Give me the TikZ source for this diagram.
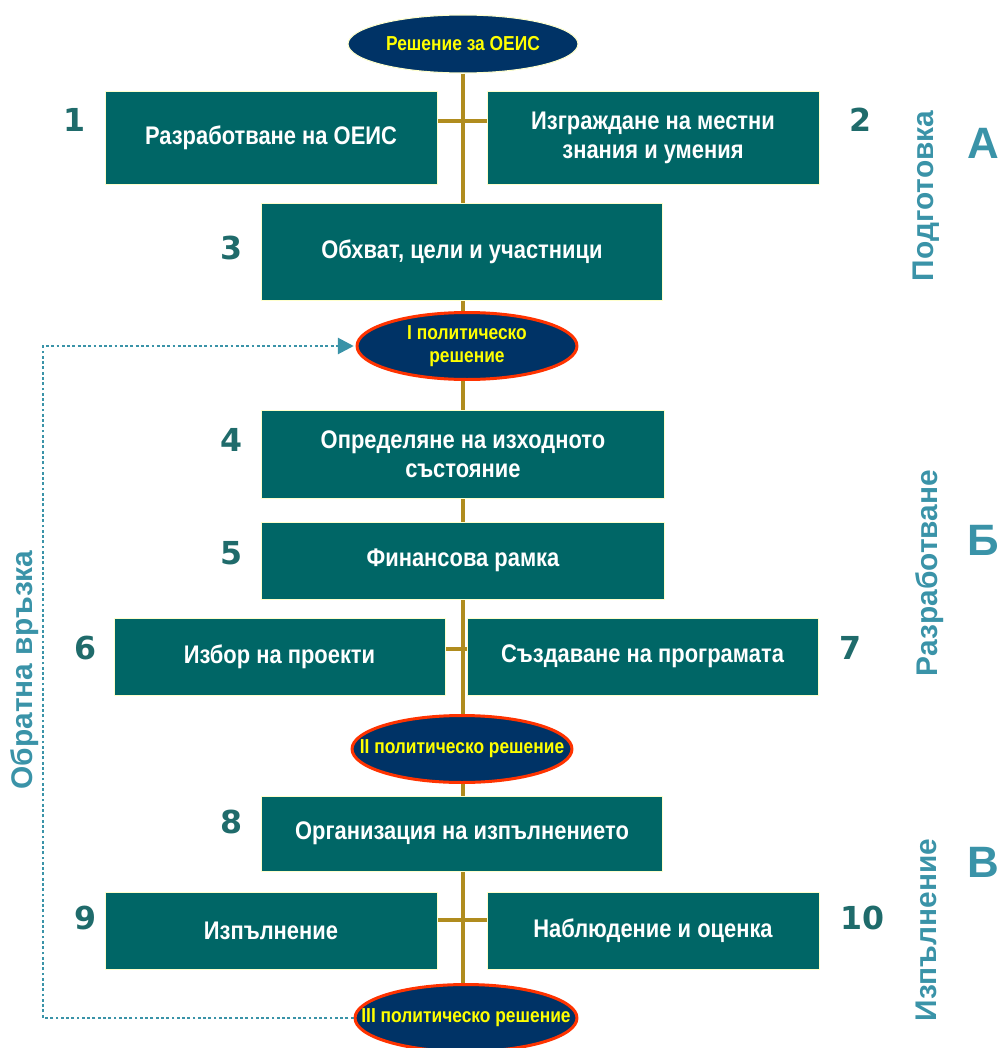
\documentclass[tikz,border=0pt]{standalone}
\usepackage{fontspec}
\setmainfont{Liberation Sans}
\newfontfamily\narrowfont[FakeStretch=0.86]{Liberation Sans}
\newfontfamily\numfont{DejaVu Sans}
\usetikzlibrary{shapes.geometric,arrows.meta,backgrounds}
\definecolor{boxteal}{HTML}{006666}
\definecolor{navy}{HTML}{003366}
\definecolor{redline}{HTML}{FF3300}
\definecolor{gold}{HTML}{B08C1E}
\definecolor{paleyel}{HTML}{FFFFCC}
\definecolor{numteal}{HTML}{1F6B6B}
\definecolor{sideblue}{HTML}{3A93A8}
\definecolor{txtyellow}{HTML}{FFFF00}
\tikzstyle{stage}=[draw=paleyel,fill=boxteal,text=white,font=\narrowfont\bfseries\fontsize{14.5}{16.5}\selectfont,align=center,inner sep=0pt]
\tikzstyle{decision}=[ellipse,draw=redline,line width=1.7pt,fill=navy,text=txtyellow,font=\narrowfont\bfseries\fontsize{11.5}{13}\selectfont,align=center,inner sep=0pt]
\tikzstyle{start}=[decision,draw=paleyel,line width=0.6pt]
\tikzstyle{num}=[text=numteal,font=\numfont\bfseries\fontsize{18}{20}\selectfont]
\tikzstyle{phase}=[text=sideblue,font=\bfseries\fontsize{17}{20}\selectfont,rotate=90]
\tikzstyle{letter}=[text=sideblue,font=\bfseries\fontsize{25}{28}\selectfont]
\tikzstyle{link}=[draw=gold,line width=2.2pt]
\tikzstyle{feedback}=[draw=sideblue,line width=1.6pt,dash pattern=on 1.6pt off 1.4pt,-{Triangle[length=9pt,width=9pt]}]

\begin{document}
\begin{tikzpicture}[x=0.02cm,y=-0.02cm]
  \useasboundingbox (0,0) rectangle (1003,1048);
  \node[start,minimum width=4.6cm,minimum height=1.16cm] (e0) at (463,44) {Решение за ОЕИС};
  \node[stage,minimum width=6.64cm,minimum height=1.86cm] (b1) at (271,137.5) {Разработване на ОЕИС};
  \node[stage,minimum width=6.64cm,minimum height=1.86cm] (b2) at (653,137.5) {Изграждане на местни\\знания и умения};
  \node[stage,minimum width=8.02cm,minimum height=1.94cm] (b3) at (462,251.5) {Обхват, цели и участници};
  \node[decision,minimum width=4.4cm,minimum height=1.34cm] (e1) at (467,346) {I политическо\\решение};
  \node[stage,minimum width=8.06cm,minimum height=1.76cm] (b4) at (463,454) {Определяне на изходното\\състояние};
  \node[stage,minimum width=8.06cm,minimum height=1.54cm] (b5) at (463,560.5) {Финансова рамка};
  \node[stage,minimum width=6.62cm,minimum height=1.54cm] (b6) at (279.5,656.5) {Избор на проекти};
  \node[stage,minimum width=7.02cm,minimum height=1.54cm] (b7) at (642.5,656.5) {Създаване на програмата};
  \node[decision,minimum width=4.4cm,minimum height=1.34cm] (e2) at (462,749) {\makebox[0pt]{II политическо решение}};
  \node[stage,minimum width=8.02cm,minimum height=1.5cm] (b8) at (462,833.5) {Организация на изпълнението};
  \node[stage,minimum width=6.64cm,minimum height=1.54cm] (b9) at (271,930.5) {Изпълнение};
  \node[stage,minimum width=6.64cm,minimum height=1.54cm] (b10) at (653,930.5) {Наблюдение и оценка};
  \node[decision,minimum width=4.44cm,minimum height=1.34cm] (e3) at (466,1018) {\makebox[0pt]{III политическо решение}};

  \node[num] (n1) at (75,120) {1};
  \node[num] (n2) at (860,120) {2};
  \node[num] (n3) at (232,248) {3};
  \node[num] (n4) at (232,440) {4};
  \node[num] (n5) at (232,553) {5};
  \node[num] (n6) at (86,648) {6};
  \node[num] (n7) at (850,648) {7};
  \node[num] (n8) at (232,822) {8};
  \node[num] (n9) at (86,918) {9};
  \node[num] (n10) at (862,918) {10};

  \node[phase] (p1) at (926,196) {Подготовка};
  \node[phase] (p2) at (930,573) {Разработване};
  \node[phase] (p3) at (926,930) {Изпълнение};
  \node[phase] (fbtext) at (25,670) {Обратна връзка};
  \node[letter] (la) at (983,143) {А};
  \node[letter] (lb) at (983,540) {Б};
  \node[letter] (lc) at (983,862) {В};

  \coordinate (fb) at (43,0);
  \draw[feedback] (e3.west) -- (e3.west -| fb) -- (e1.west -| fb) -- ([xshift=-1pt]e1.west);

  \begin{pgfonlayer}{background}
    \draw[link] (e0.south) -- (e0.south |- e3.north);
    \draw[link] ([yshift=9.4pt]b1.east) -- ([yshift=9.4pt]b2.west);
    \draw[link] ([yshift=4.3pt]b6.east) -- ([yshift=4.3pt]b7.west);
    \draw[link] ([yshift=6pt]b9.east) -- ([yshift=6pt]b10.west);
  \end{pgfonlayer}
\end{tikzpicture}
\end{document}
